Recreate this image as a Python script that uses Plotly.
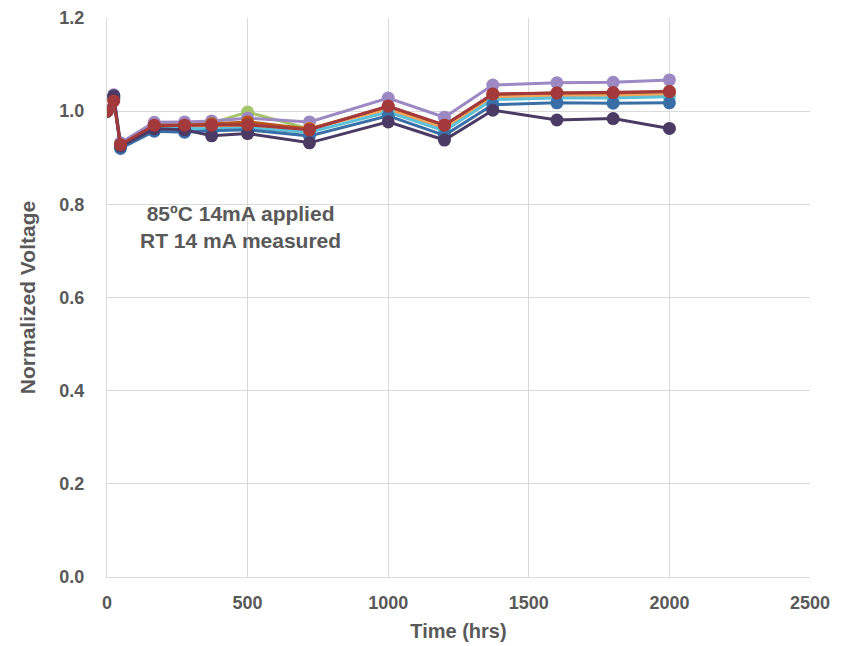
import plotly.graph_objects as go

hours = [0, 24, 48, 168, 276, 372, 500, 720, 1000, 1200, 1372, 1600, 1800, 2000]

dark_purple = [1.000, 1.033, 0.925, 0.962, 0.960, 0.947, 0.952, 0.932, 0.977, 0.938, 1.002, 0.981, 0.984, 0.963]
steel_blue = [1.000, 1.030, 0.920, 0.957, 0.955, 0.958, 0.960, 0.947, 0.990, 0.948, 1.014, 1.018, 1.017, 1.018]
aqua = [1.000, 1.028, 0.925, 0.963, 0.963, 0.962, 0.964, 0.955, 0.998, 0.958, 1.025, 1.028, 1.028, 1.031]
orange = [1.000, 1.027, 0.927, 0.965, 0.966, 0.967, 0.968, 0.963, 1.004, 0.963, 1.030, 1.033, 1.033, 1.036]
green = [1.000, 1.029, 0.930, 0.972, 0.972, 0.974, 0.998, 0.962, 1.008, 0.968, 1.034, 1.036, 1.036, 1.039]
brown = [1.000, 1.025, 0.928, 0.968, 0.970, 0.973, 0.977, 0.962, 1.010, 0.970, 1.036, 1.039, 1.039, 1.042]
red = [1.000, 1.022, 0.928, 0.970, 0.970, 0.970, 0.971, 0.960, 1.011, 0.970, 1.037, 1.039, 1.040, 1.042]
light_purple = [1.000, 1.035, 0.932, 0.976, 0.977, 0.979, 0.985, 0.977, 1.028, 0.987, 1.056, 1.061, 1.062, 1.067]

series = [
    ("Green", green, "#A5C46C"),
    ("Light purple", light_purple, "#9C88C2"),
    ("Orange", orange, "#F5A45E"),
    ("Aqua", aqua, "#5EC0D6"),
    ("Brown", brown, "#B9561E"),
    ("Steel blue", steel_blue, "#3A6EA7"),
    ("Dark purple", dark_purple, "#4A3A64"),
    ("Red", red, "#A3393B"),
]

fig = go.Figure()
for name, vals, col in series:
    fig.add_trace(go.Scatter(
        x=hours, y=vals, name=name, mode="lines+markers",
        line=dict(color=col, width=3),
        marker=dict(color=col, size=13),
        showlegend=False,
    ))

grey = "#595959"
grid = "#D9D9D9"
fig.update_layout(
    width=848, height=646,
    margin=dict(l=99, r=46, t=10, b=77),
    plot_bgcolor="white", paper_bgcolor="white",
    font=dict(family="Arial, Liberation Sans", color=grey),
    xaxis=dict(
        range=[0, 2500], dtick=500, tick0=0,
        showgrid=True, gridcolor=grid, gridwidth=1,
        showline=True, linecolor=grid, linewidth=1,
        zeroline=False, ticks="", automargin=False,
        ticklabelstandoff=9,
        tickfont=dict(size=18, color=grey, weight="bold"),
        title=dict(text="Time (hrs)", font=dict(size=20, color=grey, weight="bold"), standoff=12),
    ),
    yaxis=dict(
        range=[0, 1.2], dtick=0.2, tick0=0, tickformat=".1f",
        showgrid=True, gridcolor=grid, gridwidth=1,
        showline=True, linecolor=grid, linewidth=1,
        zeroline=False, ticks="", automargin=False,
        ticklabelstandoff=18,
        tickfont=dict(size=18, color=grey, weight="bold"),
        title=dict(text="Normalized Voltage", font=dict(size=21, color=grey, weight="bold"), standoff=18),
    ),
    annotations=[dict(
        x=473, y=0.752, xref="x", yref="y", showarrow=False,
        text="85ºC 14mA applied<br>RT 14 mA measured",
        font=dict(size=21, color=grey, weight="bold"), align="center",
    )],
)

fig.write_html("out.html")
